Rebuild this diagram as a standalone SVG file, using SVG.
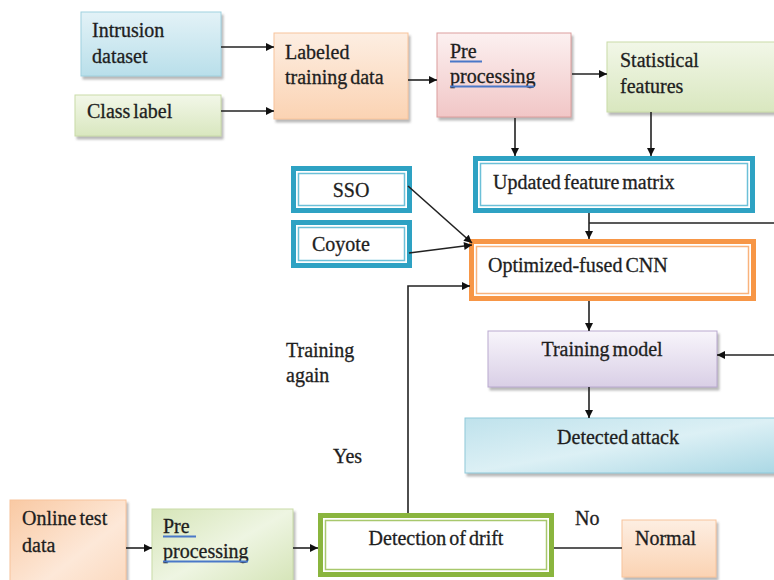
<svg xmlns="http://www.w3.org/2000/svg" width="774" height="580" viewBox="0 0 774 580">
<defs>
<linearGradient id="gBlue" x1="0" y1="0" x2="0" y2="1"><stop offset="0" stop-color="#e3f2f7"/><stop offset="1" stop-color="#b9dfea"/></linearGradient>
<linearGradient id="gBlue2" x1="0" y1="0" x2="1" y2="1"><stop offset="0" stop-color="#bfe2ec"/><stop offset="0.5" stop-color="#dcf0f5"/><stop offset="1" stop-color="#a9d7e4"/></linearGradient>
<linearGradient id="gGreen" x1="0" y1="0" x2="0" y2="1"><stop offset="0" stop-color="#f2f7e8"/><stop offset="1" stop-color="#d9e7bf"/></linearGradient>
<linearGradient id="gGreen2" x1="0" y1="0" x2="1" y2="1"><stop offset="0" stop-color="#d6e5b8"/><stop offset="0.5" stop-color="#eef5e2"/><stop offset="1" stop-color="#d3e3b4"/></linearGradient>
<linearGradient id="gOrange" x1="0" y1="0" x2="0" y2="1"><stop offset="0" stop-color="#fdeee2"/><stop offset="1" stop-color="#fbd3b3"/></linearGradient>
<linearGradient id="gOrange2" x1="0" y1="0" x2="1" y2="1"><stop offset="0" stop-color="#f9c9a3"/><stop offset="0.6" stop-color="#fde8d8"/><stop offset="1" stop-color="#fbd8bd"/></linearGradient>
<linearGradient id="gPink" x1="0" y1="0" x2="0" y2="1"><stop offset="0" stop-color="#fcf0f0"/><stop offset="1" stop-color="#f1c6c6"/></linearGradient>
<linearGradient id="gPurple" x1="0" y1="0" x2="0" y2="1"><stop offset="0" stop-color="#f8f5fb"/><stop offset="1" stop-color="#d9cfe6"/></linearGradient>
<filter id="sh" x="-10%" y="-10%" width="130%" height="140%"><feDropShadow dx="2" dy="3" stdDeviation="1.2" flood-color="#808080" flood-opacity="0.55"/></filter>
<marker id="ah" viewBox="0 0 10 10" refX="10" refY="5" markerWidth="9" markerHeight="8" markerUnits="userSpaceOnUse" orient="auto"><path d="M0,0 L10,5 L0,10 z" fill="#111"/></marker>
</defs>
<style>
.t{font-size:20px;fill:#1e1e1e;stroke:#1e1e1e;stroke-width:0.3;word-spacing:-2px}
.mid{text-anchor:middle}
.conn path{fill:none;stroke:#222;stroke-width:1.6}
.ar{marker-end:url(#ah)}
.ul{stroke:#4a78c8;stroke-width:2;fill:none}
.bo{stroke-width:5;fill:#fff}
.bi{stroke-width:1.5;fill:none}
.blue .bo{stroke:#2ea2c3}.blue .bi{stroke:#6cc0d8}
.orng .bo{stroke:#f79646}.orng .bi{stroke:#f9b37c}
.grn .bo{stroke:#8ab53e}.grn .bi{stroke:#a8c86d}
</style>
<rect width="774" height="580" fill="#fff"/>

<g id="intrusion"><rect x="81" y="12" width="140" height="64" fill="url(#gBlue)" stroke="#9fd1df" filter="url(#sh)"/><text class="t" font-family="Liberation Serif" x="92" y="37">Intrusion</text><text class="t" font-family="Liberation Serif" x="92" y="63">dataset</text></g>
<g id="classlabel"><rect x="75" y="95" width="146" height="41" fill="url(#gGreen)" stroke="#c9dba8" filter="url(#sh)"/><text class="t" font-family="Liberation Serif" x="87" y="118">Class label</text></g>
<g id="labeled"><rect x="274" y="33" width="134" height="86" fill="url(#gOrange)" stroke="#f8c49b" filter="url(#sh)"/><text class="t" font-family="Liberation Serif" x="285" y="59">Labeled</text><text class="t" font-family="Liberation Serif" x="285" y="84">training data</text></g>
<g id="pre1"><rect x="437" y="33" width="134" height="84" fill="url(#gPink)" stroke="#dc9e9d" filter="url(#sh)"/><text class="t" font-family="Liberation Serif" x="450" y="58">Pre</text><text class="t" font-family="Liberation Serif" x="450" y="83">processing</text><path class="ul" d="M450,61.5 H482 M450,86.5 H534"/></g>
<g id="stat"><rect x="607" y="42" width="180" height="70" fill="url(#gGreen)" stroke="#c9dba8" filter="url(#sh)"/><text class="t" font-family="Liberation Serif" x="620" y="67">Statistical</text><text class="t" font-family="Liberation Serif" x="620" y="93">features</text></g>

<g id="updated" class="blue"><rect class="bo" x="475.5" y="158.5" width="277" height="52"/><rect class="bi" x="480.5" y="163.5" width="267" height="42"/><text class="t" font-family="Liberation Serif" x="493" y="189">Updated feature matrix</text></g>
<g id="sso" class="blue"><rect class="bo" x="293.5" y="168.5" width="116" height="42"/><rect class="bi" x="298.5" y="173.5" width="106" height="32"/><text class="t mid" font-family="Liberation Serif" x="351" y="197">SSO</text></g>
<g id="coyote" class="blue"><rect class="bo" x="293.5" y="222.5" width="116" height="43"/><rect class="bi" x="298.5" y="227.5" width="106" height="33"/><text class="t" font-family="Liberation Serif" x="312" y="251">Coyote</text></g>
<g id="cnn" class="orng"><rect class="bo" x="471.5" y="241.5" width="282" height="57"/><rect class="bi" x="476.5" y="246.5" width="272" height="47"/><text class="t" font-family="Liberation Serif" x="488" y="272">Optimized-fused CNN</text></g>

<g id="training"><rect x="488" y="331" width="229" height="56" fill="url(#gPurple)" stroke="#b9a9cf" filter="url(#sh)"/><text class="t mid" font-family="Liberation Serif" x="602" y="356">Training model</text></g>
<g id="detected"><rect x="465" y="418" width="320" height="55" fill="url(#gBlue2)" stroke="#8fc9da" filter="url(#sh)"/><text class="t mid" font-family="Liberation Serif" x="618" y="444">Detected attack</text></g>

<g id="online"><rect x="10" y="500" width="116" height="90" fill="url(#gOrange2)" stroke="#f8c49b" filter="url(#sh)"/><text class="t" font-family="Liberation Serif" x="22" y="525">Online test</text><text class="t" font-family="Liberation Serif" x="22" y="552">data</text></g>
<g id="pre2"><rect x="152" y="509" width="141" height="80" fill="url(#gGreen2)" stroke="#c9dba8" filter="url(#sh)"/><text class="t" font-family="Liberation Serif" x="163" y="533">Pre</text><text class="t" font-family="Liberation Serif" x="163" y="558">processing</text><path class="ul" d="M163,536.5 H196 M163,561.5 H248"/></g>
<g id="drift" class="grn"><rect class="bo" x="320.5" y="515.5" width="231" height="59"/><rect class="bi" x="325.5" y="520.5" width="221" height="49"/><text class="t mid" font-family="Liberation Serif" x="436" y="545">Detection of drift</text></g>
<g id="normal"><rect x="622" y="520" width="94" height="57" fill="url(#gOrange)" stroke="#f8c49b" filter="url(#sh)"/><text class="t" font-family="Liberation Serif" x="635" y="545">Normal</text></g>

<g id="labels">
<text class="t" font-family="Liberation Serif" x="286" y="357">Training</text><text class="t" font-family="Liberation Serif" x="286" y="382">again</text>
<text class="t" font-family="Liberation Serif" x="333" y="463">Yes</text>
<text class="t" font-family="Liberation Serif" x="575" y="525">No</text>
</g>

<g id="connectors" class="conn">
<path class="ar" d="M221,47 H274"/>
<path class="ar" d="M221,111 H274"/>
<path class="ar" d="M408,80 H437"/>
<path class="ar" d="M572,74 H607"/>
<path class="ar" d="M515,118 V156"/>
<path class="ar" d="M651,112 V156"/>
<path class="ar" d="M589,213 V239"/>
<path d="M774,223 H589"/>
<path class="ar" d="M408,186 L472,243"/>
<path class="ar" d="M409,253 L472,245"/>
<path class="ar" d="M408,513 V286 H470"/>
<path class="ar" d="M589,301 V331"/>
<path class="ar" d="M774,355 H717"/>
<path class="ar" d="M589,387 V418"/>
<path class="ar" d="M126,548 H152"/>
<path class="ar" d="M293,548 H318"/>
<path d="M554,548 H622"/>
</g>
</svg>
